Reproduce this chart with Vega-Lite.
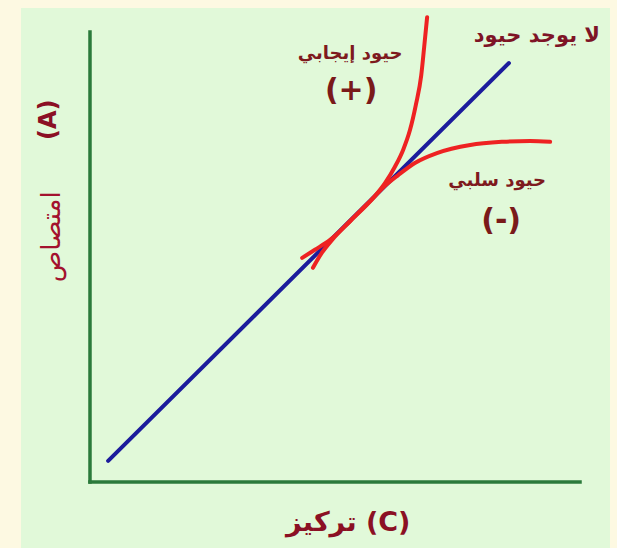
{
  "$schema": "https://vega.github.io/schema/vega-lite/v6.json",
  "width": 589,
  "height": 540,
  "autosize": {"type": "none"},
  "padding": {"left": 21, "top": 8, "right": 7, "bottom": 0},
  "background": "#fdf9e2",
  "config": {"view": {"fill": "#e1f9d9", "stroke": null}},
  "datasets": {
    "axes": [
      {"x": 0, "y": 0, "x2": 0, "y2": 10},
      {"x": 0, "y": 0, "x2": 10, "y2": 0}
    ],
    "ideal": [
      {"c": 0.37, "a": 0.47},
      {"c": 8.55, "a": 9.31}
    ],
    "dev": [
      {"curve": "pos", "c": 4.33, "a": 4.98},
      {"curve": "pos", "c": 4.59, "a": 5.16},
      {"curve": "pos", "c": 4.90, "a": 5.38},
      {"curve": "pos", "c": 5.31, "a": 5.80},
      {"curve": "pos", "c": 5.82, "a": 6.36},
      {"curve": "pos", "c": 6.02, "a": 6.64},
      {"curve": "pos", "c": 6.22, "a": 7.00},
      {"curve": "pos", "c": 6.39, "a": 7.38},
      {"curve": "pos", "c": 6.53, "a": 7.82},
      {"curve": "pos", "c": 6.65, "a": 8.38},
      {"curve": "pos", "c": 6.76, "a": 9.04},
      {"curve": "pos", "c": 6.82, "a": 9.67},
      {"curve": "pos", "c": 6.88, "a": 10.33},
      {"curve": "neg", "c": 4.55, "a": 4.76},
      {"curve": "neg", "c": 4.73, "a": 5.09},
      {"curve": "neg", "c": 4.94, "a": 5.38},
      {"curve": "neg", "c": 5.31, "a": 5.80},
      {"curve": "neg", "c": 5.82, "a": 6.36},
      {"curve": "neg", "c": 6.02, "a": 6.58},
      {"curve": "neg", "c": 6.29, "a": 6.82},
      {"curve": "neg", "c": 6.63, "a": 7.09},
      {"curve": "neg", "c": 7.08, "a": 7.31},
      {"curve": "neg", "c": 7.76, "a": 7.49},
      {"curve": "neg", "c": 8.43, "a": 7.56},
      {"curve": "neg", "c": 8.98, "a": 7.58},
      {"curve": "neg", "c": 9.39, "a": 7.56}
    ],
    "smallLabels": [
      {"label": "حيود إيجابي", "c": 5.31, "a": 9.51},
      {"label": "حيود سلبي", "c": 8.31, "a": 6.69}
    ],
    "signs": [
      {"label": "(+)", "c": 5.33, "a": 8.69},
      {"label": "(-)", "c": 8.39, "a": 5.80}
    ],
    "noDev": [
      {"label": "لا يوجد حيود", "c": 9.12, "a": 9.91}
    ],
    "xTitle": [
      {"label": "تركيز (C)", "c": 5.27, "a": -0.91}
    ],
    "yTitleA": [
      {"label": "(A)", "c": -0.84, "a": 8.05}
    ],
    "yTitleWord": [
      {"label": "امتصاص", "c": -0.78, "a": 5.45}
    ]
  },
  "encoding": {
    "x": {"field": "c", "type": "quantitative", "scale": {"domain": [-1.408, 10.612], "nice": false, "zero": false}, "axis": null},
    "y": {"field": "a", "type": "quantitative", "scale": {"domain": [-1.467, 10.533], "nice": false, "zero": false}, "axis": null}
  },
  "layer": [
    {
      "data": {"name": "axes"},
      "mark": {"type": "rule", "color": "#2b7a3b", "strokeWidth": 3.5, "strokeCap": "square"},
      "encoding": {
        "x": {"field": "x", "type": "quantitative"},
        "y": {"field": "y", "type": "quantitative"},
        "x2": {"field": "x2"},
        "y2": {"field": "y2"}
      }
    },
    {
      "data": {"name": "ideal"},
      "mark": {"type": "line", "color": "#1c1c9c", "strokeWidth": 4, "strokeCap": "round"},
      "encoding": {}
    },
    {
      "data": {"name": "dev"},
      "mark": {"type": "line", "color": "#ee2222", "strokeWidth": 4, "strokeCap": "round", "interpolate": "monotone"},
      "encoding": {"detail": {"field": "curve"}}
    },
    {
      "data": {"name": "smallLabels"},
      "mark": {"type": "text", "font": "DejaVu Sans", "fontWeight": "bold", "fontSize": 18, "color": "#7e1a1e", "align": "center", "baseline": "middle"},
      "encoding": {"text": {"field": "label"}}
    },
    {
      "data": {"name": "signs"},
      "mark": {"type": "text", "font": "DejaVu Sans", "fontWeight": "bold", "fontSize": 30, "color": "#7a1a1a", "align": "center", "baseline": "middle"},
      "encoding": {"text": {"field": "label"}}
    },
    {
      "data": {"name": "noDev"},
      "mark": {"type": "text", "font": "DejaVu Sans", "fontWeight": "bold", "fontSize": 21, "color": "#7e1426", "align": "center", "baseline": "middle"},
      "encoding": {"text": {"field": "label"}}
    },
    {
      "data": {"name": "xTitle"},
      "mark": {"type": "text", "font": "DejaVu Sans", "fontWeight": "bold", "fontSize": 27, "color": "#8b1024", "align": "center", "baseline": "middle"},
      "encoding": {"text": {"field": "label"}}
    },
    {
      "data": {"name": "yTitleA"},
      "mark": {"type": "text", "font": "DejaVu Sans", "fontWeight": "bold", "fontSize": 24, "color": "#8b1024", "align": "center", "baseline": "middle", "angle": 270},
      "encoding": {"text": {"field": "label"}}
    },
    {
      "data": {"name": "yTitleWord"},
      "mark": {"type": "text", "font": "DejaVu Sans", "fontSize": 26, "color": "#a3122e", "align": "center", "baseline": "middle", "angle": 270},
      "encoding": {"text": {"field": "label"}}
    }
  ]
}
